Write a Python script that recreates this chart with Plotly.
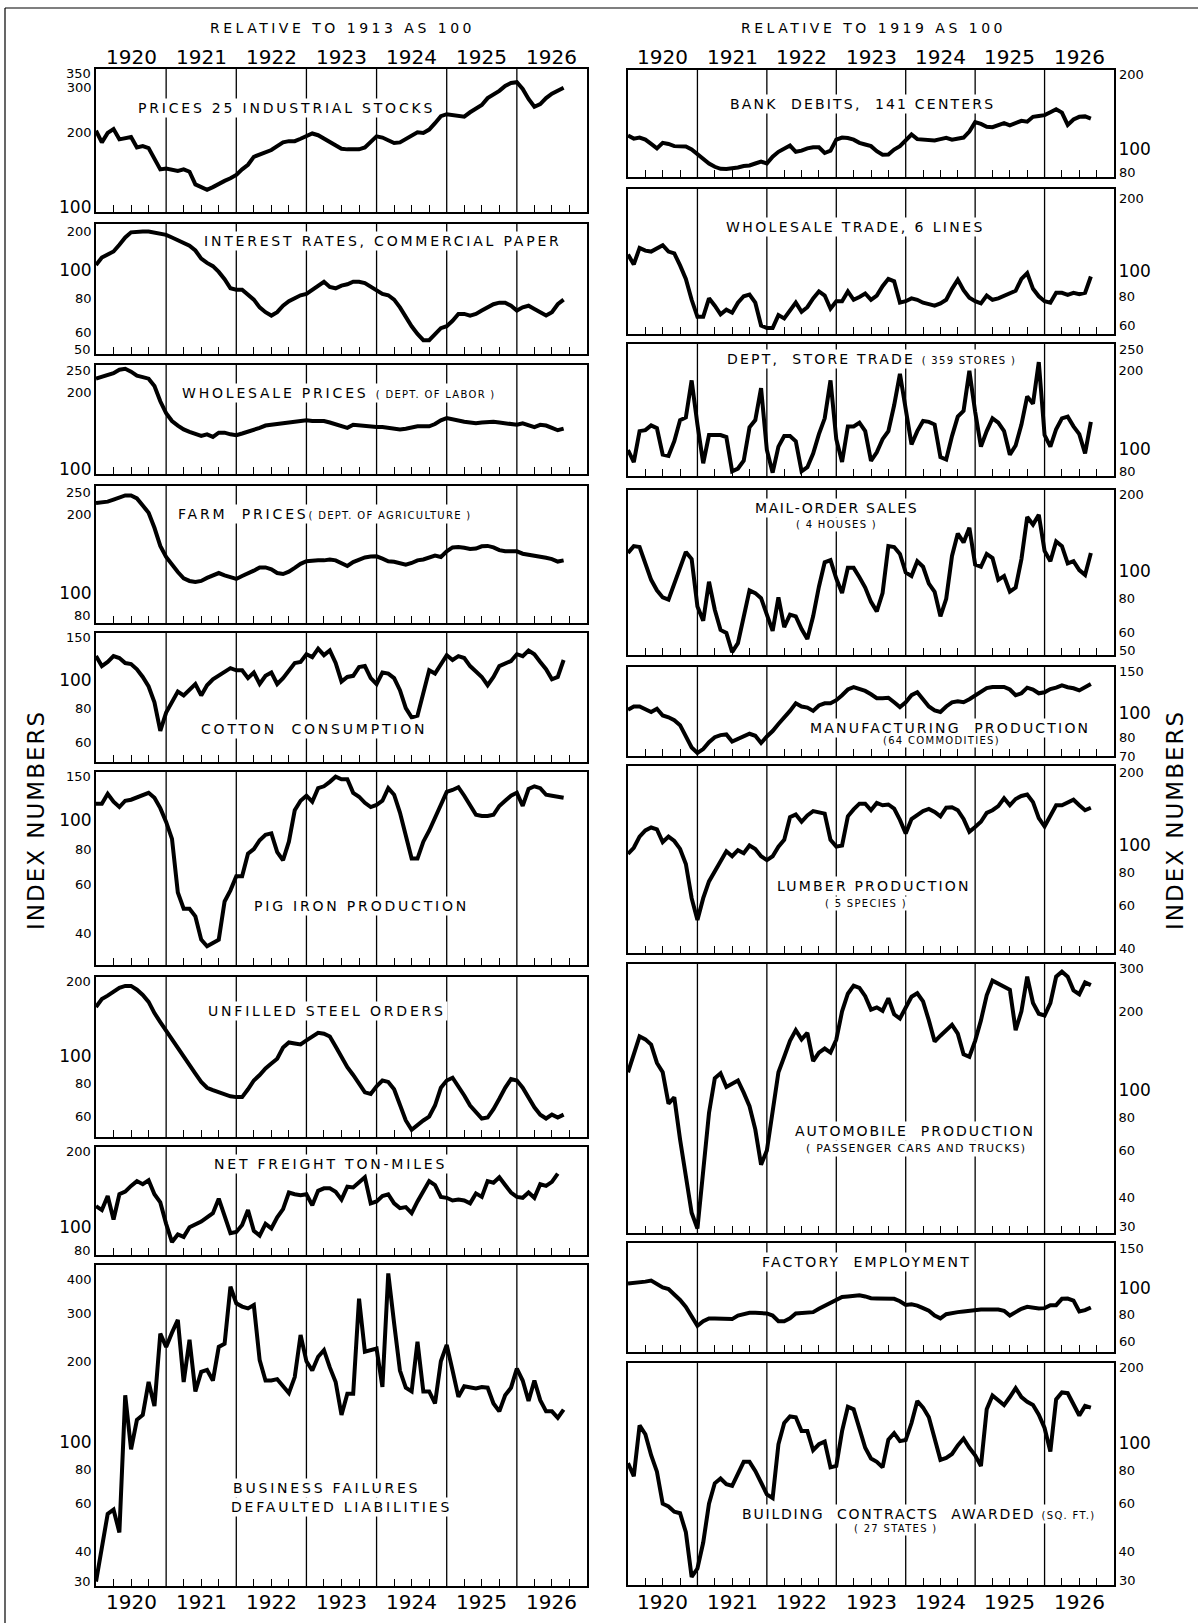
import math
import plotly.graph_objects as go

# ---------------- data: monthly index numbers, Jan 1920 onward ----------------
FIRST_YEAR = 1920
YEAR_LABELS = ["1920", "1921", "1922", "1923", "1924", "1925", "1926"]

stocks = [204,184,200,207,189,191,193,176,178,175, 160,145,146,145,143,145,142,127,124,121,
          124,128,131,134,138,145,151,162,165,168, 172,178,184,186,186,190,195,199,196,190,
          186,180,174,173,173,173,176,184,194,192, 187,183,184,189,196,201,200,206,218,232,
          236,235,234,231,240,248,256,272,280,290, 303,311,313,295,270,252,258,272,283,290, 298]
interest_rates = [106,113,116,119,126,134,140,141,141,141, 140,139,137,134,131,128,125,120,112,108,
                  105,100,94,87,86,86,82,79,74,71, 69,71,75,78,80,82,83,86,89,92,
                  88,87,89,90,92,92,91,88,85,83, 82,79,74,68,63,59,56,56,59,62,
                  63,66,70,70,69,70,72,74,76,77, 77,75,72,74,75,73,71,69,71,76, 79]
wholesale_prices = [226,229,232,237,244,246,240,232,229,226, 212,186,168,157,151,146,143,140,138,140,
                    137,142,142,140,139,141,143,146,148,151, 152,153,155,156,157,157,158,157,157,157,
                    155,153,151,148,152,151,150,149,149,149, 148,147,146,147,149,150,150,150,153,158,
                    161,159,157,156,155,154,155,156,156,155, 154,152,152,154,151,149,152,151,148,145, 147]
farm_prices = [221,221.5,223.5,227.5,232,236,236,230,216,203, 178,152,138,129,121,114.5,112,111,112,115,
               118,120,117.5,115.5,114,117,119.5,122.5,126,126, 124,120,119,121.5,125.5,130,133,134,134,134,
               135,134,131,127.6,132,135,137.5,138.5,138.8,136, 133,132.3,131,129,131,134,135,137,139.6,138,
               145,150,150.5,149.5,148,148.5,151.5,152,150,146.5, 145,145,145,142,141,140,138.3,137,135.5,132.6, 134]
cotton = [124,114,118,124,122,117,116,111,104,96, 84,66,77,84,92,89,93,98,89,97,
          102,105,108,112,110,110,103,108,98,105, 108,98,103,110,117,118,126,123,132,125,
          130,117,100,104,105,113,114,103,98,108, 107,103,93,80,74,75,90,110,107,116,
          125,120,124,122,114,109,104,97,104,114, 116,119,126,124,130,126,118,111,102,104, 120]
pig_iron = [116,116,126,118,113,119,120,122,124,127, 122,112,100,87,56,49,49,46,38,36,
            37,38,52,57,64,64,77,80,86,90, 91,78,73,85,110,119,124,118,132,134,
            139,145,142,142,127,123,117,113,115,119, 132,125,108,88,74,74,85,93,103,116,
            128,130,133,124,114,106,105,105,106,114, 119,124,127,114,131,134,132,125,124,123, 122]
steel_orders = [155,166,171,177,183,186,186,180,172,162, 147,136,126,118,109,101,94,87,81,77,
                75.5,74,72.5,71.5,71,71,76,82,86,91, 95,99,109,114,113,112,116,120,124,123,
                120,110,100,92,86,80,74,73,78,82, 81,76,66,58,53.5,56,58,60,66,77,
                82,84,78,72,66,62,59,59.5,64,70, 77,83,82,77,71,65,61,59,61,59.5, 61]
freight = [121,117,132,108,134,137,144,150,146,151, 134,125,104,89,95,93,101,103,106,110,
           114,129,110,96,97,103,117,98,94,104, 100,110,118,136,134,133,134,122,138,141,
           141,137,128,143,142,148,155,124,126,132, 134,124,119,120,114,126,138,150,145,131,
           130,127,128,127,124,135,131,150,148,155, 145,136,131,130,136,130,146,144,149,160]
failures = [31,42,55,57,47,150,95,122,127,168, 137,253,226,255,284,168,240,155,183,186,
            170,226,232,376,327,318,313,322,202,170, 170,172,162,153,175,250,200,185,208,220,
            190,168,127,152,152,340,217,220,223,161, 421,276,185,160,155,236,155,155,140,200,
            230,185,148,162,160,159,161,160,140,131, 150,160,188,170,143,170,144,131,131,124, 133]
bank_debits = [114,111,112,110,106,102,107,106,104,103.6, 103.6,101,97,93,89.5,87,85.5,85.3,85.8,86.5,
               87.6,88,89.5,91,89.5,95,99,102,104.5,99, 100,102,103,103,98,100,110,112,111.5,110,
               107,105.5,104,99.5,96.5,96.8,101,104,109,115, 110.5,110,109.5,109.3,110.5,111.7,110,111,112,118,
               128,126,123,122.5,125,127,124.5,127,129.5,128.5, 134,135,136,139.4,143,139,125,131,134,134.5, 132]
wholesale_trade = [117,107,124,121,120,124,127,120,118,106, 94,78,67,67,79,74,68.5,71.4,69.5,76,
                   80.5,81.7,76,62,60.6,60.6,68,66,71,76, 70,73,79,84,81,72,77,77,84,78,
                   80,82.5,78,81,88,94,92,76,77,79, 78,76,75,74,75.5,78,86,93.4,85,79.5,
                   77,75.5,81,78,79,81,83,84.5,94,99, 86,80.5,77,76,83,83,81.5,83,82,83, 96]
dept_store = [100,90,118,119,124,121,96,95,108,130, 133,184,125,89,114,114,114,112,83,85,
              91,122,130,172,100,82,103,113,113,108, 83,86,97,115,132,184,110,90,123,123,
              127,118,91,98,110,118,148,195,140,105, 118,129,128,125,94,92,113,134,141,200,
              140,103,118,132,127,118,96,104,125,160, 150,216,114,103,120,132,134,123,115,97, 128]
mail_order = [118,125,124,108,94,86,81,79.5,91,106, 119,112,75,66.5,92.5,73,61.5,60,51,55,
              69,86,84,80.5,70,61,81,63,70,69, 62,57,69,88.7,109,111,95,84,104,104,
              96,88,78,72,84,125,124,117,100,97, 110,105,91,85,69,80,115,139,129,146,
              107,105,117,113,94,97,85,88,112,160, 150,163,120,110,130,125,108,110,102,98, 118]
manufacturing = [104,107,107,104.5,102,105,99,97.5,95,91, 82,75,71.5,74,78.5,82,83.5,84,79,81,
                 83,84.5,83,78,82.5,86.5,92,97,103,110, 107,106,103,108,110,110,113,118,124,126.5,
                 125,122.5,119,115,115,115.5,111,106.5,111,118, 121,114,107,103.5,102,107,111,112,111,114,
                 117.5,122,125.5,126.8,126.8,126.8,124,118,120,126, 124,120,121,124.5,126,128.5,126.5,125.3,123,127, 130]
lumber = [94,99,109,115,118,116,104,109,105,98, 86,64,53,64,74,81,88,96,92,97,
          94.5,101,98,92,89,92,100,106,129,132, 124,131,136,135,133,106,100,101,130,138,
          145,145,137,146,143,144,139,126,112,127, 132,136,138.6,135,130,140,140.6,137,127,113.6,
          118.5,124,134,137,142,152,143,151,155,157, 147,128,119,131,143,143,147,150,143,137, 140]
automobiles = [118,138,161,157,150,128,118,90,95,66, 47,35,30.5,50,83,112,117,104,107,110,
               99,88,72,53,60,84,118,135,155,170, 157,166,130,140,145,140,156.5,200,233,250,
               245,228,203,207,201,224,195,188,205,227, 234,218,185,154,162,170,178,165,138,135,
               155,185,230,261,254,247,241,170,200,270, 215,196,193,215,270,282,270,240,232,257, 251]
factory_employment = [105.6,106,106.5,107.5,108.5,105,102,100.5,96,91, 85.5,79,72,75,77,77,77,76.5,76.5,79,
                      80,81,81,81,80.5,79,75,75,77,80.5, 81,81,81.5,84,86.5,89,91.5,93.6,94,94.5,
                      95,94,92.5,92.3,92.2,92.2,92,90,87,87.5, 86.5,84.5,82.5,79,77,80,81,81.5,82,82.5,
                      83.5,83.5,83.5,83.5,83.5,82.5,79,81.5,84,85.5, 84.5,84.2,84.5,86.8,86.8,92,92.2,90.5,82,83, 85]
building = [85,76,117.6,109,91,79,60,58.6,56,55.3, 47,32,34.4,43,60,71.5,74.5,71,70,78,
            86,86,79.5,72,65,63,100,120,127,126, 112,112,95,100,102.3,82,83,112,138,135,
            116,97,88.5,86,82,104,110,102.7,103.7,120, 145,137,126,105,87.5,89,92,99,105,97,
            91,83,135,152,146,140,150,162,150,144, 140,129,115,94,147,156,155,140,128,139, 137]

# ---------------- layout helpers ----------------
W, H = 1198, 1623
FONT = "DejaVu Sans"
LCOL = (96, 587)
RCOL = (628, 1114)
TICK_SIZE = 13
BIG_SIZE = 17
SPACING = 2.8


def month_x(series):
    return [FIRST_YEAR + i / 12 for i in range(len(series))]


def lab(text, size=14, spacing=SPACING):
    return f'<span style="font-size:{size}px;letter-spacing:{spacing}px">{text}</span>'


def sub(text, size=10, spacing=1.3):
    return f'<span style="font-size:{size}px;letter-spacing:{spacing}px">{text}</span>'


def tick_text(t):
    return f'<span style="font-size:{BIG_SIZE}px">{t}</span>' if t == "100" else t


panels = [
    # left column
    dict(s=stocks, col=LCOL, side="left", top=69, bot=212, yr=(100, 350),
         ticks=[(100, "100"), (200, "200"), (300, "300"), (350, "350")], grid=[150, 200, 250, 300],
         notes=[(lab("PRICES 25 INDUSTRIAL STOCKS"), 1922.71, 250)]),
    dict(s=interest_rates, col=LCOL, side="left", top=224, bot=354, yr=(50, 149.6),
         ticks=[(50, "50"), (60, "60"), (80, "80"), (100, "100"), (141, "200")], grid=[60, 70, 80, 90, 100],
         notes=[(lab("INTEREST RATES, COMMERCIAL PAPER"), 1924.09, 130)]),
    dict(s=wholesale_prices, col=LCOL, side="left", top=365, bot=474, yr=(100, 253),
         ticks=[(100, "100"), (200, "200"), (250, "250")], grid=[150, 200],
         notes=[(lab("WHOLESALE PRICES ") + sub("( DEPT. OF LABOR )"), 1923.46, 200)]),
    dict(s=farm_prices, col=LCOL, side="left", top=486, bot=623, yr=(78, 255),
         ticks=[(80, "80"), (100, "100"), (200, "200"), (250, "250")], grid=[90, 100, 150, 200],
         notes=[(lab("FARM  PRICES") + sub("( DEPT. OF AGRICULTURE )"), 1923.26, 200)]),
    dict(s=cotton, col=LCOL, side="left", top=633, bot=762, yr=(51, 150),
         ticks=[(60, "60"), (80, "80"), (100, "100"), (150, "150")], grid=[60, 70, 80, 90, 100],
         notes=[(lab("COTTON  CONSUMPTION"), 1923.11, 67)]),
    dict(s=pig_iron, col=LCOL, side="left", top=772, bot=965, yr=(31, 150),
         ticks=[(40, "40"), (60, "60"), (80, "80"), (100, "100"), (150, "150")],
         grid=[40, 50, 60, 70, 80, 90, 100],
         notes=[(lab("PIG IRON PRODUCTION"), 1923.78, 50)]),
    dict(s=steel_orders, col=LCOL, side="left", top=977, bot=1137, yr=(50.5, 200),
         ticks=[(60, "60"), (80, "80"), (100, "100"), (200, "200")], grid=[60, 70, 80, 90, 100, 150],
         notes=[(lab("UNFILLED STEEL ORDERS"), 1923.29, 150)]),
    dict(s=freight, col=LCOL, side="left", top=1147, bot=1255, yr=(80, 200),
         ticks=[(80, "80"), (100, "100"), (200, "200")], grid=[90, 100, 150],
         notes=[(lab("NET FREIGHT TON-MILES"), 1923.34, 174)]),
    dict(s=failures, col=LCOL, side="left", top=1265, bot=1586, yr=(30, 450),
         ticks=[(30, "30"), (40, "40"), (60, "60"), (80, "80"), (100, "100"), (200, "200"), (300, "300"), (400, "400")],
         grid=[40, 50, 60, 70, 80, 90, 100, 150, 200, 250, 300, 350, 400],
         notes=[(lab("BUSINESS FAILURES"), 1923.29, 68.3), (lab("DEFAULTED LIABILITIES"), 1923.5, 58.5)]),
    # right column
    dict(s=bank_debits, col=RCOL, side="right", top=70, bot=177, yr=(80, 200),
         ticks=[(80, "80"), (100, "100"), (200, "200")], grid=[90, 100, 150],
         notes=[(lab("BANK  DEBITS,  141 CENTERS", 14, 2.2), 1923.38, 150)]),
    dict(s=wholesale_trade, col=RCOL, side="right", top=189, bot=334, yr=(57.7, 209),
         ticks=[(60, "60"), (80, "80"), (100, "100"), (200, "200")], grid=[70, 80, 90, 100, 150],
         notes=[(lab("WHOLESALE TRADE, 6 LINES", 14, 2.4), 1923.28, 150)]),
    dict(s=dept_store, col=RCOL, side="right", top=344, bot=476, yr=(80, 252),
         ticks=[(80, "80"), (100, "100"), (200, "200"), (250, "250")], grid=[90, 100, 150, 200],
         notes=[(lab("DEPT,  STORE TRADE ", 14, 2.2) + sub("( 359 STORES )"), 1923.5, 222)]),
    dict(s=mail_order, col=RCOL, side="right", top=490, bot=655, yr=(50, 200),
         ticks=[(50, "50"), (60, "60"), (80, "80"), (100, "100"), (200, "200")], grid=[60, 70, 80, 90, 100, 150],
         notes=[(lab("MAIL-ORDER SALES", 14, 1.6), 1923.0, 172), (sub("( 4 HOUSES )"), 1923.0, 150)]),
    dict(s=manufacturing, col=RCOL, side="right", top=667, bot=756, yr=(70, 150),
         ticks=[(70, "70", -1), (80, "80", 3), (100, "100"), (150, "150")], grid=[80, 90, 100],
         notes=[(lab("MANUFACTURING  PRODUCTION", 14, 2.2), 1924.64, 89), (sub("(64 COMMODITIES)"), 1924.51, 80)]),
    dict(s=lumber, col=RCOL, side="right", top=766, bot=953, yr=(40, 200),
         ticks=[(40, "40"), (60, "60"), (80, "80"), (100, "100"), (200, "200", -6)],
         grid=[50, 60, 70, 80, 90, 100, 150],
         notes=[(lab("LUMBER PRODUCTION", 14, 2.2), 1923.55, 71), (sub("( 5 SPECIES )"), 1923.43, 61)]),
    dict(s=automobiles, col=RCOL, side="right", top=964, bot=1233, yr=(29.5, 300),
         ticks=[(30, "30"), (40, "40"), (60, "60"), (80, "80"), (100, "100"), (200, "200"), (300, "300")],
         grid=[40, 50, 60, 70, 80, 90, 100, 150, 200],
         notes=[(lab("AUTOMOBILE  PRODUCTION", 14, 2.0), 1924.14, 71),
                (sub("( PASSENGER CARS AND TRUCKS)", 11, 1.2), 1924.15, 61)]),
    dict(s=factory_employment, col=RCOL, side="right", top=1243, bot=1352, yr=(57, 152),
         ticks=[(60, "60"), (80, "80"), (100, "100"), (150, "150")], grid=[80, 90, 100],
         notes=[(lab("FACTORY  EMPLOYMENT", 14, 2.2), 1923.43, 128)]),
    dict(s=building, col=RCOL, side="right", top=1363, bot=1585, yr=(30, 200),
         ticks=[(30, "30"), (40, "40"), (60, "60"), (80, "80"), (100, "100"), (200, "200")],
         grid=[40, 50, 60, 70, 80, 90, 100, 150],
         notes=[(lab("BUILDING  CONTRACTS  AWARDED ", 14, 1.8) + sub("(SQ. FT.)"), 1924.19, 55),
                (sub("( 27 STATES )"), 1923.86, 48.5)]),
]

quarters = [FIRST_YEAR + y + q / 4 for y in range(7) for q in (1, 2, 3)]

fig = go.Figure()
layout = {}
shapes = []
annotations = []
EDGE = 0.025

for i, p in enumerate(panels, start=1):
    xn = "x" if i == 1 else f"x{i}"
    yn = "y" if i == 1 else f"y{i}"
    xkey = "xaxis" if i == 1 else f"xaxis{i}"
    ykey = "yaxis" if i == 1 else f"yaxis{i}"
    s = p["s"]
    fig.add_trace(go.Scatter(x=month_x(s), y=s, mode="lines",
                             line=dict(color="black", width=4),
                             xaxis=xn, yaxis=yn, showlegend=False, hoverinfo="skip"))
    x0, x1 = p["col"]
    layout[xkey] = dict(domain=[x0 / W, x1 / W], range=[FIRST_YEAR, FIRST_YEAR + 7], anchor=yn,
                        showgrid=False, zeroline=False, showline=True, mirror=True,
                        linecolor="black", linewidth=1.6, tickmode="array", tickvals=quarters,
                        ticks="inside", ticklen=7, tickwidth=1.4, tickcolor="black",
                        showticklabels=False, fixedrange=True, automargin=False)
    lo, hi = p["yr"]
    tv, tt = [], []
    right = p["side"] == "right"
    for tk in p["ticks"]:
        v, t = tk[0], tk[1]
        d_top = abs(math.log10(v / hi))
        d_bot = abs(math.log10(v / lo))
        shift = None
        if len(tk) > 2:
            shift = tk[2]
        elif d_top < EDGE:
            shift = -4
        elif d_bot < EDGE:
            shift = 4
        if shift is not None:
            # labels at panel edges: nudged so neighbouring panels' labels stay apart
            annotations.append(dict(text=tick_text(t), xref=f"{xn} domain", yref=yn,
                                    x=1 if right else 0, y=math.log10(v),
                                    xanchor="left" if right else "right", yanchor="middle",
                                    xshift=3 if right else -3, yshift=shift,
                                    showarrow=False,
                                    font=dict(family=FONT, size=TICK_SIZE, color="black")))
        else:
            tv.append(v)
            tt.append(tick_text(t))
    layout[ykey] = dict(domain=[1 - p["bot"] / H, 1 - p["top"] / H], type="log",
                        range=[math.log10(lo) - 0.002, math.log10(hi) + 0.002], anchor=xn,
                        side=p["side"], showgrid=False, zeroline=False, showline=True, mirror=True,
                        linecolor="black", linewidth=1.6, tickmode="array", tickvals=tv, ticktext=tt,
                        ticks="", ticklen=0, tickfont=dict(family=FONT, size=TICK_SIZE, color="black"),
                        fixedrange=True, automargin=False)
    for g in p["grid"]:
        shapes.append(dict(type="line", xref=f"{xn} domain", yref=yn, x0=0, x1=1,
                           y0=math.log10(g), y1=math.log10(g), layer="below",
                           line=dict(color="black", width=1.4)))
    for yv in range(FIRST_YEAR + 1, FIRST_YEAR + 7):
        shapes.append(dict(type="line", xref=xn, yref=f"{yn} domain", x0=yv, x1=yv, y0=0, y1=1,
                           layer="below", line=dict(color="black", width=1.3)))
    for text, xv, yv in p["notes"]:
        annotations.append(dict(text=text, xref=xn, yref=yn, x=xv, y=math.log10(yv),
                                xanchor="center", yanchor="middle",
                                showarrow=False, bgcolor="white", borderpad=1,
                                font=dict(family=FONT, size=14, color="black")))

# year labels (top and bottom of each column)
for xref, ypx in (("x", 57), ("x10", 57), ("x9", 1602), ("x18", 1602)):
    for k, ylab in enumerate(YEAR_LABELS):
        annotations.append(dict(text=ylab, xref=xref, yref="paper", x=FIRST_YEAR + k + 0.5,
                                y=1 - ypx / H, xanchor="center", yanchor="middle", showarrow=False,
                                font=dict(family=FONT, size=20, color="black")))

# column headers
for txt, xpx in (("RELATIVE TO 1913 AS 100", 342), ("RELATIVE TO 1919 AS 100", 873)):
    annotations.append(dict(text=f'<span style="letter-spacing:3.5px">{txt}</span>', xref="paper",
                            yref="paper", x=xpx / W, y=1 - 28 / H, xanchor="center", yanchor="middle",
                            showarrow=False, font=dict(family=FONT, size=14, color="black")))

# vertical axis titles
for xpx in (36, 1175):
    annotations.append(dict(text='<span style="letter-spacing:2px">INDEX NUMBERS</span>',
                            xref="paper", yref="paper", x=xpx / W, y=1 - 820 / H,
                            xanchor="center", yanchor="middle", textangle=-90, showarrow=False,
                            font=dict(family=FONT, size=23, color="black")))

# outer frame (left and top edges)
shapes.append(dict(type="line", xref="paper", yref="paper", x0=5 / W, x1=5 / W, y0=0, y1=1 - 8 / H,
                   line=dict(color="black", width=1.2)))
shapes.append(dict(type="line", xref="paper", yref="paper", x0=5 / W, x1=1, y0=1 - 8 / H, y1=1 - 8 / H,
                   line=dict(color="black", width=1.2)))

fig.update_layout(template="none", width=W, height=H,
                  margin=dict(l=0, r=0, t=0, b=0, pad=0, autoexpand=False),
                  paper_bgcolor="white", plot_bgcolor="white",
                  font=dict(family=FONT, color="black"),
                  shapes=shapes, annotations=annotations, **layout)

fig.write_html("out.html", config={"displayModeBar": False},
               post_script="document.body.style.margin='0';document.body.style.overflow='hidden';")
